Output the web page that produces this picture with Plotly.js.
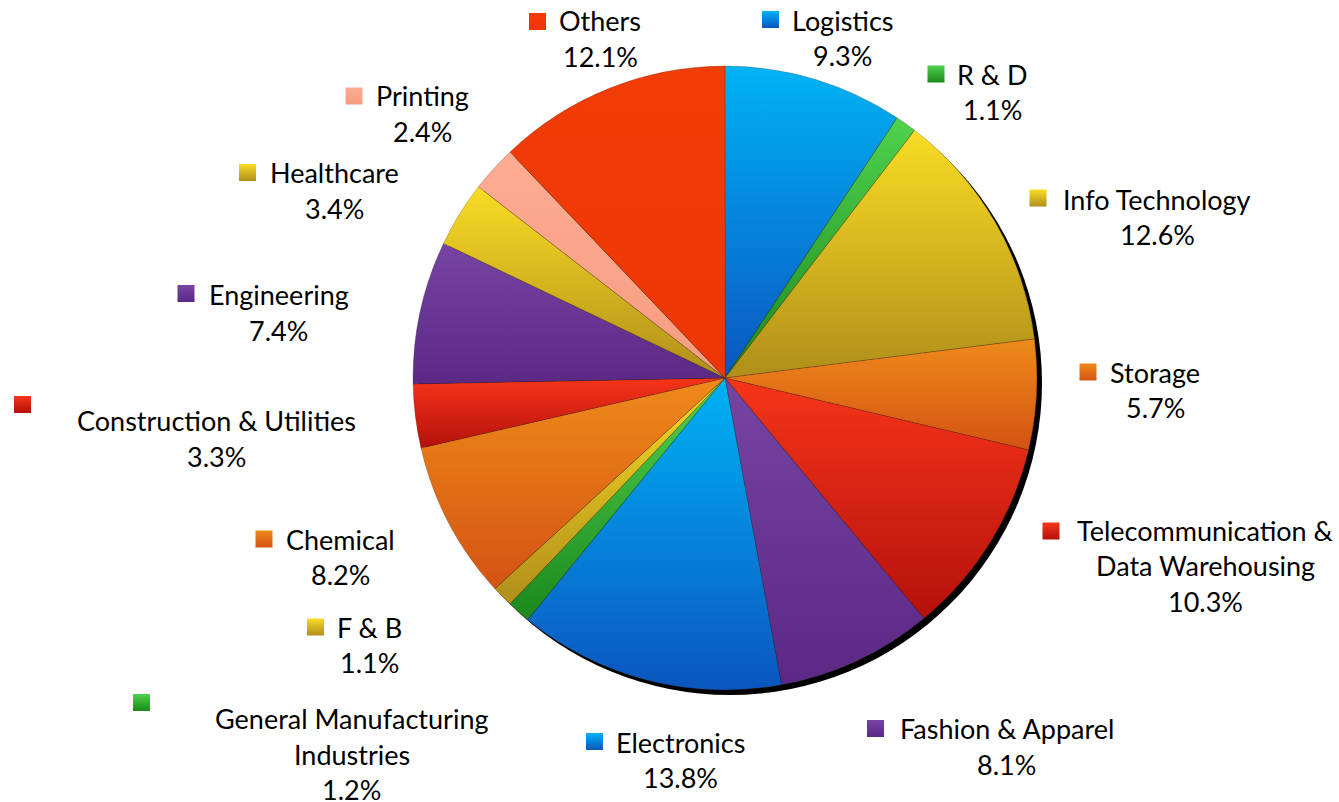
<!DOCTYPE html>
<html>
<head>
<meta charset="utf-8">
<script src="https://cdn.plot.ly/plotly-3.0.1.min.js"></script>
<style>
html,body{margin:0;padding:0;background:#fff;}
#chart{width:1339px;height:802px;}
</style>
</head>
<body>
<div id="chart"></div>
<script>
// ---------- DATA ----------
const categories = ['Logistics','R & D','Info Technology','Storage','Telecommunication & Data Warehousing',
  'Fashion & Apparel','Electronics','General Manufacturing Industries','F & B','Chemical',
  'Construction & Utilities','Engineering','Healthcare','Printing','Others'];
const shares = [9.3, 1.1, 12.6, 5.7, 10.3, 8.1, 13.8, 1.2, 1.1, 8.2, 3.3, 7.4, 3.4, 2.4, 12.1];
const labelLines = ['Logistics','R & D','Info Technology','Storage','Telecommunication &\nData Warehousing',
  'Fashion & Apparel','Electronics','General Manufacturing\nIndustries','F & B','Chemical',
  'Construction & Utilities','Engineering','Healthcare','Printing','Others'];

// ---------- STYLE ----------
const colorTop    = ['#00B3F5','#50D24D','#F9DC24','#EE8A1A','#F63519','#7644A2','#00B3F5','#50D24D','#F9DC24','#EE8A1A','#F63519','#7644A2','#F9DC24','#FFAC92','#F23C06'];
const colorBottom = ['#0B55BF','#1B881D','#B08E1A','#D45313','#B5100C','#5C2886','#0B55BF','#1B881D','#B08E1A','#D45313','#B5100C','#5C2886','#B08E1A','#F59C80','#EE3604'];

// ---------- LAYOUT POSITIONS (pixels) ----------
const W = 1339, H = 802;
const pieGeo = {cx: 725, cy: 378, r: 312, shadow: 5};
// [text centre x, first line centre y, key centre x, key centre y]
const labelPos = [
  [842.5, 20, 770.5, 19.5],
  [992, 74, 936, 74],
  [1157, 199, 1038, 198],
  [1155, 372, 1088, 372],
  [1205, 530, 1051, 531],
  [1006.5, 728.5, 875.5, 728.5],
  [680.5, 742, 594.5, 741.5],
  [351.5, 718.5, 141.5, 702.5],
  [369.5, 627, 315.5, 627],
  [340.5, 539, 264, 539],
  [216.5, 420.5, 22.5, 404.5],
  [278.5, 294.5, 186, 293.5],
  [334, 173, 247.5, 172.5],
  [422, 96, 354, 96],
  [600, 21, 537.5, 21.5]
];
const lineH = 35.5, keySize = 17, fontSize = 27, fontFam = 'Lato, "Liberation Sans", sans-serif';

const px = x => x / W;
const py = y => 1 - y / H;

function mix(a, b) {
  const pa = parseInt(a.slice(1), 16), pb = parseInt(b.slice(1), 16);
  const r = Math.round((((pa >> 16) & 255) + ((pb >> 16) & 255)) / 2);
  const g = Math.round((((pa >> 8) & 255) + ((pb >> 8) & 255)) / 2);
  const bl = Math.round(((pa & 255) + (pb & 255)) / 2);
  return `rgb(${r},${g},${bl})`;
}
const colorMid = colorTop.map((c, i) => mix(c, colorBottom[i]));

const {cx, cy, r, shadow} = pieGeo;

const shadowTrace = {
  type: 'pie', values: [1], labels: ['shadow'], sort: false,
  marker: {colors: ['#000000'], line: {width: 0}},
  textinfo: 'none', hoverinfo: 'skip', showlegend: false,
  domain: {x: [px(cx - r + shadow), px(cx + r + shadow)], y: [py(cy + r + shadow), py(cy - r + shadow)]}
};

const mainTrace = {
  type: 'pie', values: shares, labels: categories, sort: false,
  direction: 'clockwise', rotation: 0,
  marker: {colors: colorMid, line: {color: 'rgba(60,40,20,0.35)', width: 0.7}},
  textinfo: 'none', hoverinfo: 'label+percent', showlegend: false,
  domain: {x: [px(cx - r), px(cx + r)], y: [py(cy + r), py(cy - r)]}
};

const annotations = [];
const shapes = [];
categories.forEach((c, i) => {
  const [tx, ty, kx, ky] = labelPos[i];
  const lines = labelLines[i].split('\n').concat([shares[i].toFixed(1) + '%']);
  lines.forEach((t, k) => {
    annotations.push({
      xref: 'paper', yref: 'paper', x: px(tx), y: py(ty + k * lineH),
      text: t, showarrow: false, xanchor: 'center', yanchor: 'middle',
      font: {family: fontFam, size: fontSize, color: '#000'}
    });
  });
  shapes.push({
    type: 'rect', xref: 'paper', yref: 'paper', layer: 'above',
    x0: px(kx - keySize / 2), x1: px(kx + keySize / 2),
    y0: py(ky + keySize / 2), y1: py(ky - keySize / 2),
    fillcolor: colorMid[i], line: {width: 0}
  });
});

const layout = {
  width: W, height: H,
  margin: {l: 0, r: 0, t: 0, b: 0, pad: 0},
  paper_bgcolor: '#ffffff', plot_bgcolor: '#ffffff',
  showlegend: false,
  annotations: annotations,
  shapes: shapes
};

Plotly.newPlot('chart', [shadowTrace, mainTrace], layout, {displayModeBar: false, staticPlot: true}).then(gd => {
  const ns = 'http://www.w3.org/2000/svg';
  const svg = gd.querySelector('svg.main-svg');
  let defs = svg.querySelector('defs');
  if (!defs) { defs = document.createElementNS(ns, 'defs'); svg.insertBefore(defs, svg.firstChild); }
  categories.forEach((c, i) => {
    const lg = document.createElementNS(ns, 'linearGradient');
    lg.setAttribute('id', 'slicegrad' + i);
    lg.setAttribute('x1', '0'); lg.setAttribute('y1', '0');
    lg.setAttribute('x2', '0'); lg.setAttribute('y2', '1');
    [[0, colorTop[i]], [1, colorBottom[i]]].forEach(([o, col]) => {
      const s = document.createElementNS(ns, 'stop');
      s.setAttribute('offset', o);
      s.setAttribute('stop-color', col);
      lg.appendChild(s);
    });
    defs.appendChild(lg);
  });
  const traces = gd.querySelectorAll('.pielayer .trace');
  const main = traces[traces.length - 1];
  main.querySelectorAll('g.slice').forEach((g, j) => {
    const d = g.__data__;
    const idx = (d && d.i != null) ? d.i : j;
    const p = g.querySelector('path.surface');
    if (p) p.style.fill = `url(#slicegrad${idx})`;
  });
  gd.querySelectorAll('.shapelayer path').forEach((p, j) => {
    const idx = p.getAttribute('data-index');
    const k = idx != null ? +idx : j;
    p.style.fill = `url(#slicegrad${k})`;
  });
});
</script>
</body>
</html>
